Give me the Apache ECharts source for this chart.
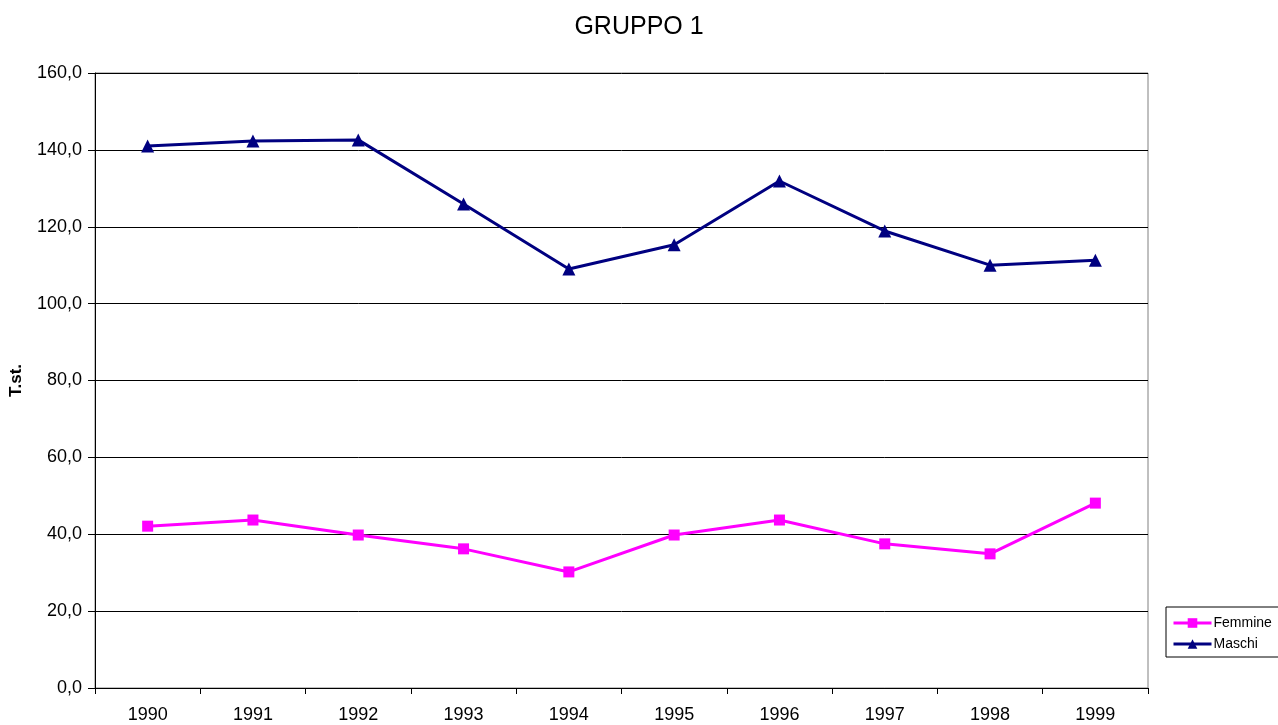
<!DOCTYPE html>
<html>
<head>
<meta charset="utf-8">
<style>
  html, body { margin: 0; padding: 0; background: #fff; }
  #chart { width: 1278px; height: 725px; }
</style>
<script src="https://cdn.jsdelivr.net/npm/echarts@6/dist/echarts.min.js"></script>
</head>
<body>
<div id="chart"></div>
<script>
// Anni osservati
const years = ['1990', '1991', '1992', '1993', '1994', '1995', '1996', '1997', '1998', '1999'];
// Tassi standardizzati per sesso
const femmine = [42.1, 43.7, 39.8, 36.2, 30.2, 39.8, 43.7, 37.5, 34.9, 48.1];
const maschi = [141.0, 142.3, 142.6, 125.9, 109.0, 115.3, 131.9, 118.9, 110.0, 111.3];

const FONT = 'Liberation Sans, Arial, sans-serif';

const chart = echarts.init(document.getElementById('chart'));
chart.setOption({
  backgroundColor: '#ffffff',
  animation: false,
  title: {
    text: 'GRUPPO 1',
    left: 'center',
    top: 10,
    textStyle: { fontFamily: FONT, fontSize: 25, fontWeight: 'normal', color: '#000' }
  },
  legend: {
    orient: 'vertical',
    left: 1166,
    top: 607,
    itemGap: 7,
    itemWidth: 38,
    itemHeight: 12,
    padding: [9, 20, 6, 6],
    borderColor: '#000',
    borderWidth: 1,
    borderRadius: 0,
    lineStyle: { width: 3 },
    textStyle: { fontFamily: FONT, fontSize: 14, color: '#000', padding: [0, 0, 0, -3] },
    data: ['Femmine', 'Maschi']
  },
  grid: {
    left: 95,
    right: 130,
    top: 73,
    bottom: 37,
    show: true,
    borderColor: '#808080',
    borderWidth: 1
  },
  xAxis: {
    type: 'category',
    data: years,
    boundaryGap: true,
    axisLine: { lineStyle: { color: '#000', width: 1 } },
    axisTick: { show: true, alignWithLabel: false, length: 6, lineStyle: { color: '#000' } },
    axisLabel: { fontFamily: FONT, fontSize: 18, color: '#000', margin: 18 }
  },
  yAxis: {
    type: 'value',
    min: 0,
    max: 160,
    interval: 20,
    name: 'T.st.',
    nameLocation: 'middle',
    nameGap: 70,
    nameTextStyle: { fontFamily: FONT, fontSize: 17, fontWeight: 'bold', color: '#000' },
    axisLine: { show: true, lineStyle: { color: '#000', width: 1 } },
    axisTick: { show: true, length: 7, lineStyle: { color: '#000' } },
    axisLabel: {
      fontFamily: FONT, fontSize: 18, color: '#000', margin: 13,
      formatter: v => v.toFixed(1).replace('.', ',')
    },
    splitLine: { show: true, lineStyle: { color: '#000', width: 1 } }
  },
  series: [
    {
      name: 'Femmine',
      type: 'line',
      data: femmine,
      symbol: 'rect',
      symbolSize: 11,
      lineStyle: { color: '#FF00FF', width: 3 },
      itemStyle: { color: '#FF00FF' }
    },
    {
      name: 'Maschi',
      type: 'line',
      data: maschi,
      symbol: 'triangle',
      symbolSize: 13,
      lineStyle: { color: '#000080', width: 3 },
      itemStyle: { color: '#000080' }
    }
  ]
});
</script>
</body>
</html>
